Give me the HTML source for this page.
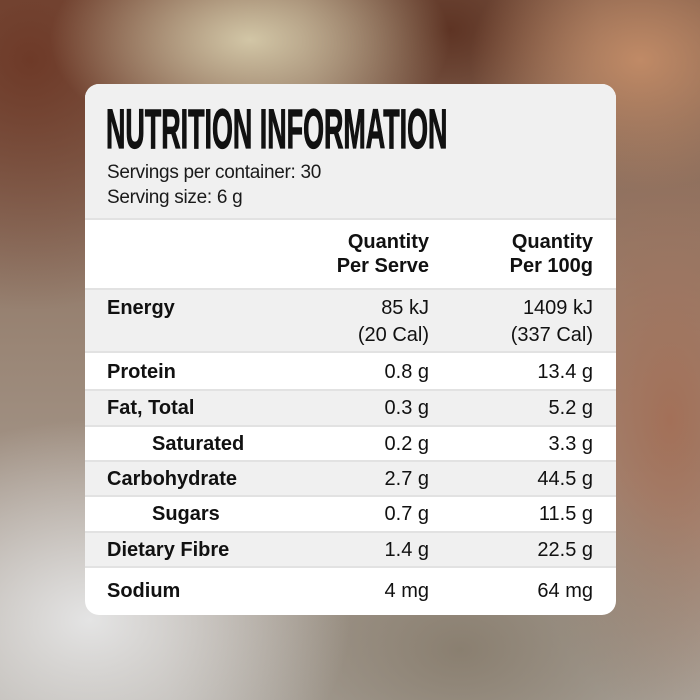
<!DOCTYPE html>
<html><head><style>
body{margin:0;width:700px;height:700px;overflow:hidden;position:relative;font-family:"Liberation Sans",sans-serif;
background:
radial-gradient(ellipse 200px 110px at 250px 40px,#d2c6a6 0%,rgba(210,198,166,0) 100%),
radial-gradient(ellipse 170px 130px at 640px 60px,#c08a66 0%,rgba(192,138,102,0) 100%),
radial-gradient(ellipse 150px 120px at 450px 30px,#5e3424 0%,rgba(94,52,36,0) 100%),
radial-gradient(ellipse 250px 250px at 30px 60px,#6e3a28 0%,rgba(110,58,40,0) 100%),
radial-gradient(ellipse 260px 200px at 90px 620px,#e4e4e4 0%,rgba(228,228,228,0) 100%),
radial-gradient(ellipse 300px 200px at 460px 650px,#8a7f70 0%,rgba(138,127,112,0) 100%),
radial-gradient(ellipse 160px 300px at 670px 420px,#a37058 0%,rgba(163,112,88,0) 100%),
linear-gradient(180deg,#7d5a48 0%,#9a8676 50%,#b0aaa2 100%);}
.card{position:absolute;left:85px;top:84px;width:531px;height:531px;border-radius:14px;overflow:hidden;background:#fff}
.head{position:absolute;left:0;top:0;width:531px;height:136px;background:#f0f0f0;border-bottom:2px solid #e2e2e2;box-sizing:border-box}
.title{position:absolute;left:21px;top:12px;font-size:56px;font-weight:bold;white-space:nowrap;transform:scaleX(0.48);transform-origin:0 0;color:#111;-webkit-text-stroke:1.2px #111}
.sub{position:absolute;left:22px;top:76px;font-size:19px;line-height:25px;color:#1a1a1a;letter-spacing:-0.3px}
.row{position:absolute;left:0;width:531px;box-sizing:border-box;border-bottom:2px solid #e2e2e2;font-size:20px;color:#111}
.g{background:#f0f0f0}
.l{position:absolute;left:22px;font-weight:bold}
.in{left:67px}
.a,.b{position:absolute;text-align:right;white-space:nowrap}
.a{right:187px}.b{right:23px}
.hd{font-weight:bold;line-height:24px;top:10px}
</style></head><body>
<div class="card">
<div class="head"><div class="title">NUTRITION INFORMATION</div>
<div class="sub">Servings per container: 30<br>Serving size: 6 g</div></div>
<div class="row" style="top:136px;height:70px"><div class="a hd">Quantity<br>Per Serve</div><div class="b hd">Quantity<br>Per 100g</div></div>
<div class="row g" style="top:206px;height:63px;line-height:27px"><div class="l" style="top:5px">Energy</div><div class="a" style="top:5px">85 kJ<br>(20 Cal)</div><div class="b" style="top:5px">1409 kJ<br>(337 Cal)</div></div>
<div class="row" style="top:269px;height:38px;line-height:38px"><div class="l">Protein</div><div class="a">0.8 g</div><div class="b">13.4 g</div></div>
<div class="row g" style="top:307px;height:36px;line-height:34px"><div class="l">Fat, Total</div><div class="a">0.3 g</div><div class="b">5.2 g</div></div>
<div class="row" style="top:343px;height:35px;line-height:34px"><div class="l in">Saturated</div><div class="a">0.2 g</div><div class="b">3.3 g</div></div>
<div class="row g" style="top:378px;height:35px;line-height:34px"><div class="l">Carbohydrate</div><div class="a">2.7 g</div><div class="b">44.5 g</div></div>
<div class="row" style="top:413px;height:36px;line-height:34px"><div class="l in">Sugars</div><div class="a">0.7 g</div><div class="b">11.5 g</div></div>
<div class="row g" style="top:449px;height:35px;line-height:34px"><div class="l">Dietary Fibre</div><div class="a">1.4 g</div><div class="b">22.5 g</div></div>
<div class="row" style="top:484px;height:47px;line-height:46px;border:none"><div class="l">Sodium</div><div class="a">4 mg</div><div class="b">64 mg</div></div>
</div>
</body></html>
